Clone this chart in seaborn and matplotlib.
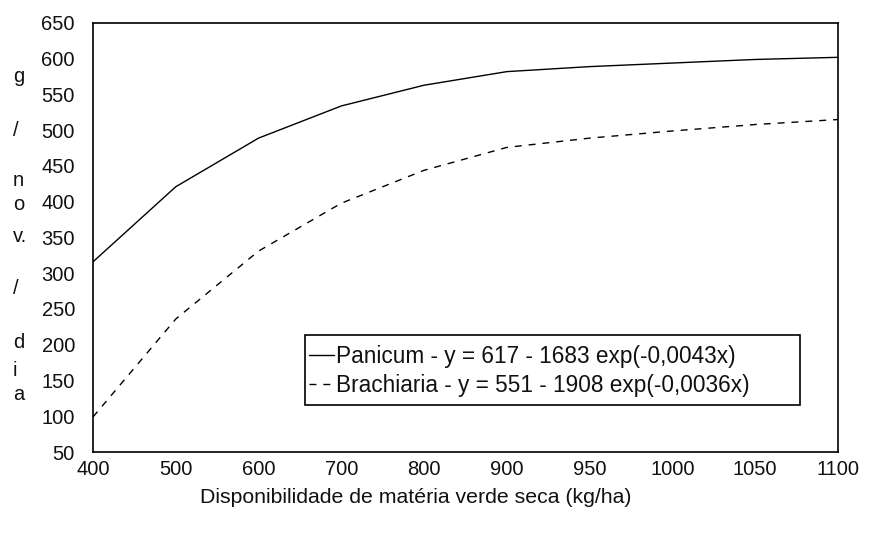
import matplotlib
matplotlib.use("Agg")
import matplotlib.pyplot as plt
from matplotlib.patches import Rectangle
import seaborn as sns
import pandas as pd

# data
disponibilidade = ["400", "500", "600", "700", "800", "900", "950", "1000", "1050", "1100"]
panicum = [316, 421, 489, 534, 563, 582, 589, 594, 599, 602]
brachiaria = [99, 236, 331, 398, 444, 476, 489, 499, 508, 515]

leg_panicum = "Panicum - y = 617 - 1683 exp(-0,0043x)"
leg_brachiaria = "Brachiaria - y = 551 - 1908 exp(-0,0036x)"
x_label = "Disponibilidade de matéria verde seca (kg/ha)"
y_label_chars = [("g", 76), ("/", 130), ("n", 181), ("o", 204), ("v.", 237),
                 ("/", 288), ("d", 343), ("i", 370), ("a", 394)]

sns.set_style("white")
plt.rcParams['font.family'] = ['Liberation Sans', 'DejaVu Sans']

df = pd.DataFrame({
    "disp": disponibilidade * 2,
    "valor": panicum + brachiaria,
    "serie": [leg_panicum] * len(panicum) + [leg_brachiaria] * len(brachiaria),
})

W, H = 875, 544
fig = plt.figure(figsize=(W / 100, H / 100), dpi=100)
# plot frame in pixels: left 93, right 838, top 23, bottom 452
ax = fig.add_axes([93 / W, (H - 452) / H, (838 - 93) / W, (452 - 23) / H])

sns.lineplot(data=df, x="disp", y="valor", style="serie",
             dashes={leg_panicum: "", leg_brachiaria: (5, 5)},
             color="black", linewidth=1.0, ax=ax, legend=True, sort=False)

ax.set_xlim(0, len(disponibilidade) - 1)
ax.set_ylim(50, 650)
ax.set_yticks(range(50, 651, 50))
ax.tick_params(axis="both", length=0, labelsize=14.5, colors="#111111")
ax.tick_params(axis="y", pad=13)
ax.tick_params(axis="x", pad=6)
ax.set_xlabel(x_label, fontsize=15.3, color="#111111", labelpad=7)
ax.xaxis.set_label_coords((416 - 93) / 745, -0.085)
ax.set_ylabel("")
for s in ax.spines.values():
    s.set_color("black")
    s.set_linewidth(1.2)

def px_to_ax(xp, yp):
    return (xp - 93) / 745, (452 - yp) / 429

leg = ax.legend(loc="upper left", bbox_to_anchor=px_to_ax(309, 345),
                borderaxespad=0, borderpad=0, frameon=False,
                fontsize=16.3, handlelength=1.1, handletextpad=0.1,
                labelspacing=0.25)
for t in leg.get_texts():
    t.set_color("#111111")

# legend box as drawn in the reference (wider than its text)
x0, y0 = px_to_ax(305, 405)
x1, y1 = px_to_ax(800, 335)
ax.add_patch(Rectangle((x0, y0), x1 - x0, y1 - y0, transform=ax.transAxes,
                       fill=False, edgecolor="black", linewidth=1.2, zorder=5))

for ch, ypx in y_label_chars:
    fig.text(13 / W, 1 - ypx / H, ch, fontsize=14.5, ha="left", va="center", color="#111111")

fig.savefig("out.png", dpi=100)
